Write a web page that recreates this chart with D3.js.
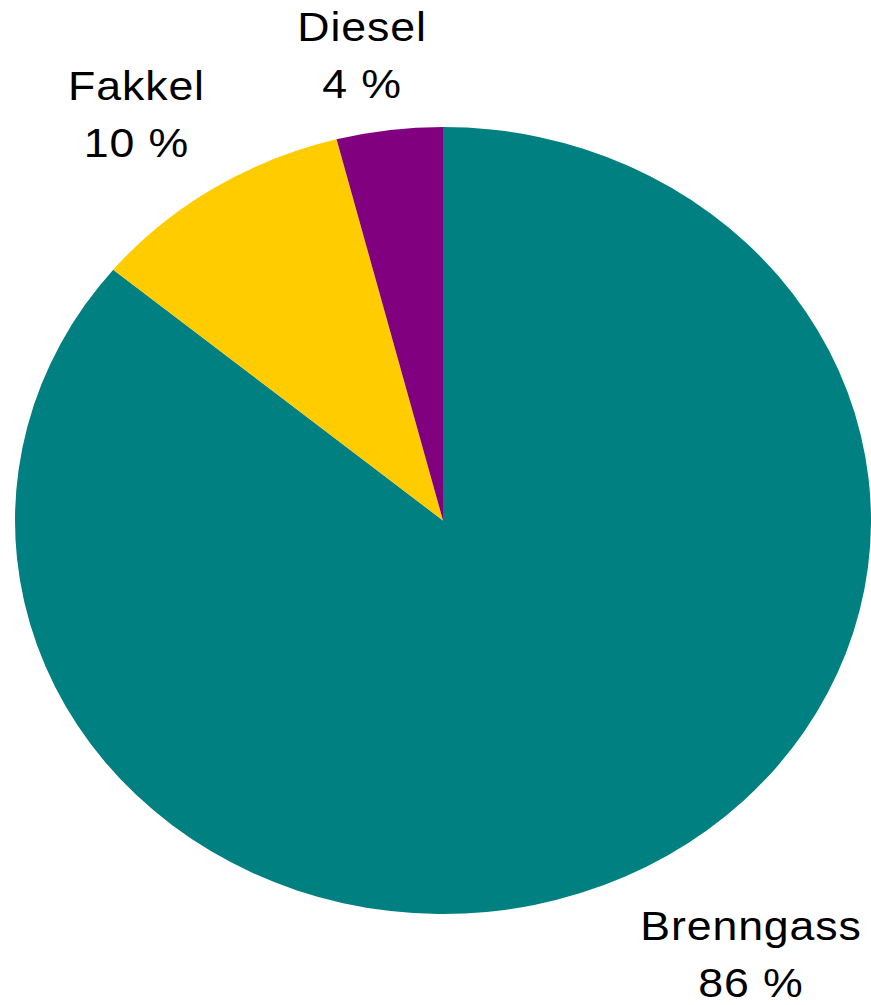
<!DOCTYPE html>
<html>
<head>
<meta charset="utf-8">
<script src="https://cdn.jsdelivr.net/npm/d3@7"></script>
<style>
  html, body { margin: 0; padding: 0; background: #fff; }
  svg { display: block; }
  text { font-family: "Liberation Sans", Arial, sans-serif; fill: #000; }
</style>
</head>
<body>
<script>
// ---- data ----
const categories = ["Brenngass", "Fakkel", "Diesel"];
const values = [86, 10, 4];
const percentLabels = ["86 %", "10 %", "4 %"];
const colors = ["#008080", "#FFCC00", "#800080"];

// ---- layout ----
const W = 871, H = 1005;
const cx = 443, cy = 520.5;
const ry = 393.5, rx = 428;
const sx = rx / ry;
// label centre positions (layout only)
const labelPos = [
  { x: 751, y: 940 },   // Brenngass baseline of first line
  { x: 136.5, y: 100 }, // Fakkel
  { x: 362, y: 41 }     // Diesel
];
const lineGap = 57;
const fontSize = 41;
const textSx = 1.09;

const svg = d3.select("body").append("svg")
  .attr("width", W).attr("height", H);

const pie = d3.pie().sort(null).value(d => d)
  .startAngle(0).endAngle(2 * Math.PI);
const arcs = pie(values);
const arc = d3.arc().innerRadius(0).outerRadius(ry);

const g = svg.append("g")
  .attr("transform", `translate(${cx},${cy}) scale(${sx},1)`);

g.selectAll("path").data(arcs).enter().append("path")
  .attr("d", arc)
  .attr("fill", (d, i) => colors[i]);

const lab = svg.selectAll("g.lab").data(categories).enter().append("g")
  .attr("class", "lab")
  .attr("transform", (d, i) => `translate(${labelPos[i].x},${labelPos[i].y}) scale(${textSx},1)`);

lab.append("text")
  .attr("text-anchor", "middle")
  .attr("font-size", fontSize)
  .attr("letter-spacing", 0.8)
  .text(d => d);
lab.append("text")
  .attr("text-anchor", "middle")
  .attr("font-size", fontSize)
  .attr("letter-spacing", 0.8)
  .attr("y", lineGap)
  .text((d, i) => percentLabels[i]);
</script>
</body>
</html>
